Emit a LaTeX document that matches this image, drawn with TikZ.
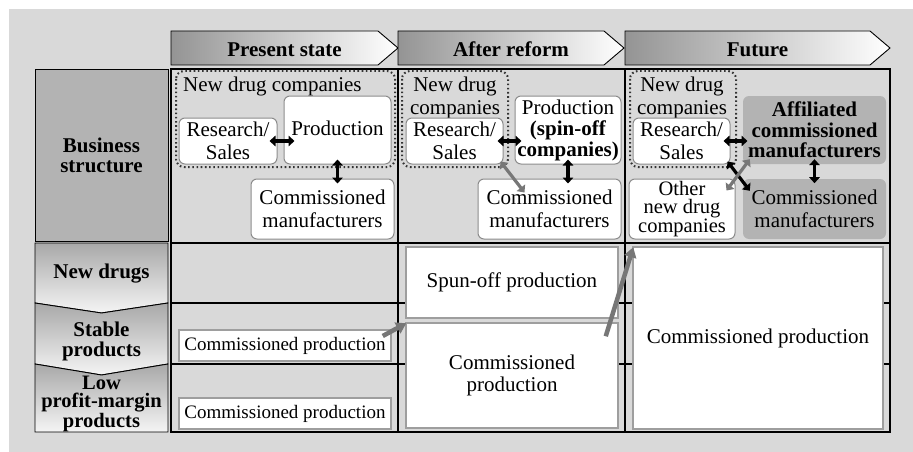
\documentclass[tikz,border=0pt]{standalone}
\usepackage{fontspec}
\setmainfont{Liberation Serif}
\usetikzlibrary{arrows.meta,calc}
\definecolor{bg}{HTML}{D9D9D9}
\definecolor{boxgray}{HTML}{B3B3B3}
\definecolor{edge}{HTML}{8C8C8C}
\definecolor{dotc}{HTML}{333333}
\definecolor{arrgray}{HTML}{777777}
\begin{document}
\begin{tikzpicture}[x=1pt,y=-1pt,
 every node/.style={inner sep=0pt, font=\fontsize{21}{22.5}\selectfont, align=center},
 rbox/.style={draw=edge, line width=1pt, fill=white, rounded corners=6pt},
 gbox/.style={fill=boxgray, rounded corners=6pt},
 pbox/.style={draw=black!38, line width=1.5pt, fill=white},
 grp/.style={draw=dotc, line width=2pt, dash pattern=on 1.6pt off 2.6pt, rounded corners=8pt},
 hdr/.style={draw=black, line width=0.9pt, left color=black!42, right color=white},
 chev/.style={draw=black, line width=0.9pt, top color=black!34, bottom color=black!4},
 boldtxt/.style={font=\fontsize{21}{20}\selectfont\bfseries},
 darr/.style={line width=3.2pt, {Triangle[length=6pt,width=10.5pt]}-{Triangle[length=6pt,width=10.5pt]}},
 gdarr/.style={darr, arrgray},
 bigarr/.style={line width=4.5pt, arrgray, -{Triangle[length=10pt,width=12pt]}},
 gridline/.style={line width=1.1pt, black}
]
\useasboundingbox (0,0) rectangle (913,452);
\fill[bg] (9,9) rectangle (913,452);

% headers
\draw[hdr] (171,31) -- (378,31) -- (398,48) -- (378,65) -- (171,65) -- cycle;
\draw[hdr] (398,31) -- (604,31) -- (624,48) -- (604,65) -- (398,65) -- cycle;
\draw[hdr] (625,31) -- (870,31) -- (890,48) -- (870,65) -- (625,65) -- cycle;
\node[boldtxt, anchor=base] (h1) at (284.5,56.5) {Present state};
\node[boldtxt, anchor=base] (h2) at (511,56.5) {After reform};
\node[boldtxt, anchor=base] (h3) at (757.5,56.5) {Future};

% row labels
\node[draw=black, line width=0.9pt, fill=boxgray, minimum width=133pt, minimum height=172pt, boldtxt] (bs) at (101.5,155) {Business\\structure};
\draw[chev] (35,243) -- (168,243) -- (168,303) -- (101.5,313) -- (35,303) -- cycle;
\draw[chev] (35,303) -- (101.5,313) -- (168,303) -- (168,364) -- (101.5,375) -- (35,364) -- cycle;
\draw[chev] (35,364) -- (101.5,375) -- (168,364) -- (168,432) -- (35,432) -- cycle;
\node[boldtxt] (nd) at (101.5,274) {New drugs};
\node[boldtxt] (sp) at (101.5,341) {Stable\\products};
\node[boldtxt, font=\fontsize{20.5}{18.5}\selectfont\bfseries] (lp) at (101.5,404) {Low\\profit-margin\\products};

% grid
\draw[gridline] (171,69) rectangle (890,432);
\draw[gridline] (398,69) -- (398,432);
\draw[gridline] (625,69) -- (625,432);
\draw[gridline] (171,243) -- (890,243);
\draw[gridline] (171,303) -- (890,303);
\draw[gridline] (171,364) -- (890,364);

% column 1, business structure
\draw[grp] (176,71) rectangle (395,167);
\node[anchor=base west] (g1) at (183,92) {New drug companies};
\node[rbox, minimum width=98pt, minimum height=46pt] (rs1) at (228,141) {Research/\\Sales};
\node[rbox, minimum width=107pt, minimum height=68pt] (pr1) at (337.5,130) {};
\node[anchor=base] (pr1t) at (337.5,135) {Production};
\node[rbox, minimum width=143pt, minimum height=60pt] (cm1) at (322.5,209) {Commissioned\\manufacturers};
\draw[darr] ($(rs1.east)+(-8,0)$) -- ($(rs1.east)+(17,0)$);
\draw[darr] ($(pr1.south)+(0,-5)$) -- ($(pr1.south)+(0,19)$);

% column 2, business structure
\draw[grp] (402,71) rectangle (508,167);
\node (g2) at (455,98) {New drug\\companies};
\node[rbox, minimum width=97pt, minimum height=46pt] (rs2) at (454.5,141) {Research/\\Sales};
\node[rbox, minimum width=106pt, minimum height=68pt, font=\fontsize{21}{21}\selectfont] (pr2) at (568,130) {Production\\\textbf{(spin-off}\\\textbf{companies)}};
\node[rbox, minimum width=143pt, minimum height=60pt] (cm2) at (549.5,209) {Commissioned\\manufacturers};
\draw[darr] ($(rs2.east)+(-6,0)$) -- ($(rs2.east)+(18,0)$);
\draw[darr] ($(pr2.south)+(0,-5)$) -- ($(pr2.south)+(0,19)$);
\draw[gdarr] ($(rs2.south east)+(-3,-3)$) -- ($(rs2.south east)+(21,28)$);

% column 3, business structure
\draw[grp] (630,71) rectangle (736,167);
\node (g3) at (682,98) {New drug\\companies};
\node[rbox, minimum width=97pt, minimum height=46pt] (rs3) at (681.5,141) {Research/\\Sales};
\node[gbox, minimum width=143pt, minimum height=68pt, font=\fontsize{21}{20.5}\selectfont\bfseries] (af3) at (814.5,130) {Affiliated\\commissioned\\manufacturers};
\node[gbox, minimum width=143pt, minimum height=60pt] (cm3) at (814.5,209) {Commissioned\\manufacturers};
\node[rbox, minimum width=106pt, minimum height=60pt, font=\fontsize{20.5}{18.5}\selectfont] (ot3) at (682,209) {Other\\new drug\\companies};
\draw[darr] ($(rs3.east)+(-7,0)$) -- ($(rs3.east)+(17,0)$);
\draw[darr] ($(af3.south)+(0,-5)$) -- ($(af3.south)+(0,19)$);
\draw[darr] ($(rs3.south east)+(-3,-3)$) -- ($(cm3.north west)+(7,12)$);
\draw[gdarr] ($(af3.south west)+(7,-5)$) -- ($(ot3.north east)+(-9,12)$);

% product rows
\node[pbox, minimum width=212pt, minimum height=31pt, font=\fontsize{19}{21}\selectfont] (cp1a) at (285,345.5) {Commissioned production};
\node[pbox, minimum width=212pt, minimum height=31pt, font=\fontsize{19}{21}\selectfont] (cp1b) at (285,413.5) {Commissioned production};
\node[pbox, minimum width=212pt, minimum height=71pt] (so2) at (512,282.5) {Spun-off production};
\node[pbox, minimum width=212pt, minimum height=105pt] (cp2) at (512,375.5) {Commissioned\\production};
\node[pbox, minimum width=250pt, minimum height=182pt] (cp3) at (758,338) {Commissioned production};

\draw[bigarr] ($(cp1a.east)+(-9,-9.5)$) -- ($(cp2.north west)+(1,1)$);
\draw[bigarr] ($(cp2.north east)+(-13,14)$) -- ($(cp3.north west)+(1,1)$);
\end{tikzpicture}
\end{document}
